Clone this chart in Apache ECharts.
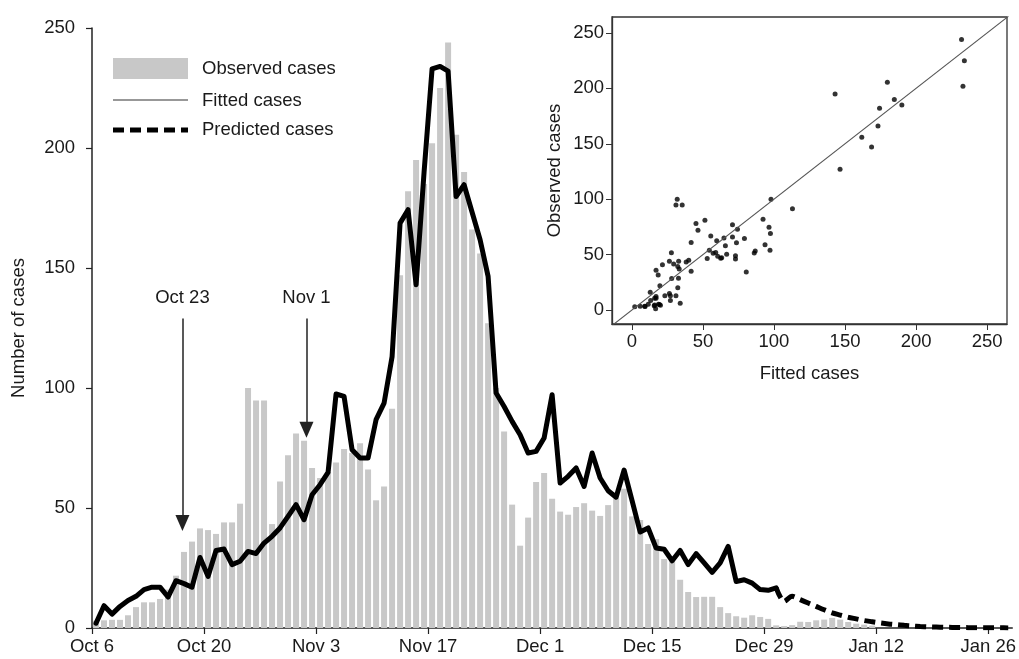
<!DOCTYPE html>
<html>
<head>
<meta charset="utf-8">
<script src="https://cdn.jsdelivr.net/npm/echarts@6/dist/echarts.min.js"></script>
<style>
    html, body { margin: 0; padding: 0; background: #fff; }
    #main { width: 1019px; height: 659px; }
</style>
</head>
<body>
<div id="main"></div>
<script>
    // daily counts, index 0 = Oct 6
    var observed = [3, 3.2, 3.4, 3.4, 5.3, 8.7, 10.7, 10.7, 12.1, 16,
        21.8, 31.7, 36, 41.5, 40.8, 39.2, 44, 44, 51.8, 100,
        94.8, 94.8, 43.3, 61, 72, 81, 78, 66.7, 62.5, 65,
        69, 74.6, 72.9, 77, 66, 53.2, 59, 91.4, 147, 182,
        195, 185, 202, 225, 244, 205.5, 190, 166, 156, 127,
        100, 81.9, 51.4, 34.3, 46, 60.8, 64.6, 53.9, 48.5, 47.2,
        50.4, 52, 48.9, 46.7, 51.2, 54, 58, 46.5, 45, 35,
        37, 28.7, 28.5, 20.1, 15, 12.9, 13, 13, 8.7, 6.2,
        4.9, 4.3, 5.3, 4.6, 3.8, 1.1, 0.8, 1.2, 2.6, 2.5,
        3.2, 3.5, 4.2, 3.5, 2.5, 1.8, 1.4, 1.0];

    var fitted = [2, 9.3, 5.8, 9, 11.5, 13.2, 16, 17, 17, 12.9,
        19.7, 18.5, 17, 29.4, 21.5, 32.3, 32.9, 26.4, 27.8, 31.9,
        31, 35.4, 38.2, 41.7, 46.5, 51.4, 45.1, 55.5, 59.7, 64.8,
        97.5, 96.5, 74.3, 70.8, 70.8, 86.8, 93.7, 113, 168.7, 174.3,
        143, 190, 233, 234, 232, 179.8, 184.7, 173.2, 161.8, 146.5,
        97.9, 92.3, 86.1, 80.5, 72.9, 73.6, 79.2, 97.2, 60.4, 63.2,
        66.7, 59, 72.9, 62.5, 57.2, 54.5, 65.8, 53, 40, 41.7,
        33.3, 32.8, 28, 32.3, 26.4, 31, 27.1, 23.2, 27.1, 34,
        19.4, 20.1, 18.7, 16, 15.7, 16.7];

    // predicted starts on the last fitted day
    var predStart = 85;
    var predicted = [16.7, 11.1, 13.2, 11.8, 10.4, 9, 7.6, 6.3, 5.4, 4.5,
        3.8, 3.1, 2.6, 2.1, 1.7, 1.4, 1.1, 0.85, 0.65, 0.5,
        0.4, 0.3, 0.25, 0.2, 0.15, 0.12, 0.1, 0.08, 0.06, 0.05];

    var xTickDays = [0, 14, 28, 42, 56, 70, 84, 98, 112];
    var xTickLabels = ['Oct 6', 'Oct 20', 'Nov 3', 'Nov 17', 'Dec 1', 'Dec 15', 'Dec 29', 'Jan 12', 'Jan 26'];
    var insetTicks = [0, 50, 100, 150, 200, 250];

    // arrows (day, top value, bottom value)
    var arrowLabels = ['Oct 23', 'Nov 1'];
    var arrowX = [11.3, 26.8];
    var arrowTop = 129;
    var arrowBottom = [43.7, 82.6];

    var diag = [-20, 270];

    var font = '"Liberation Sans", Arial, sans-serif';
    var ink = '#1a1a1a';
    var fs = 18.5;

    function byDay(arr, offset) {
        return arr.map(function (v, i) { return [i + offset + 0.5, v]; });
    }

    var pairs = fitted.map(function (f, i) { return [f, observed[i]]; });

    var chart = echarts.init(document.getElementById('main'));

    var option = {
        animation: false,
        textStyle: { fontFamily: font, color: ink },
        grid: [
            { left: 92, right: 0, top: 28, bottom: 31 },
            { left: 612, top: 17, width: 395, height: 307, show: true,
              backgroundColor: '#fff', borderColor: '#333', borderWidth: 1.3 }
        ],
        xAxis: [{
            type: 'value', gridIndex: 0, min: 0, max: 115,
            axisLine: { lineStyle: { color: '#222', width: 1.5 } },
            axisTick: { length: 6, customValues: xTickDays, lineStyle: { color: '#222', width: 1.2 } },
            axisLabel: { customValues: xTickDays, margin: 9, fontSize: fs, color: ink, fontFamily: font,
                formatter: function (v) { return xTickLabels[xTickDays.indexOf(v)] || ''; } },
            splitLine: { show: false }
        }, {
            type: 'value', gridIndex: 1, min: -14, max: 264,
            name: 'Fitted cases', nameLocation: 'middle', nameGap: 40,
            nameTextStyle: { fontSize: fs, color: ink, fontFamily: font },
            axisLine: { onZero: false, lineStyle: { color: '#333', width: 1.3 } },
            axisTick: { length: 6, customValues: insetTicks, lineStyle: { color: '#333' } },
            axisLabel: { customValues: insetTicks, margin: 8, fontSize: fs, color: ink, fontFamily: font },
            splitLine: { show: false }
        }],
        yAxis: [{
            type: 'value', gridIndex: 0, min: 0, max: 250, interval: 50,
            name: 'Number of cases', nameLocation: 'middle', nameGap: 64,
            nameTextStyle: { fontSize: fs, color: ink, fontFamily: font },
            axisLine: { show: true, lineStyle: { color: '#222', width: 1.5 } },
            axisTick: { show: true, length: 6, lineStyle: { color: '#222', width: 1.2 } },
            axisLabel: { margin: 17, fontSize: fs, color: ink, fontFamily: font },
            splitLine: { show: false }
        }, {
            type: 'value', gridIndex: 1, min: -12.6, max: 264.4,
            name: 'Observed cases', nameLocation: 'middle', nameGap: 48,
            nameTextStyle: { fontSize: fs, color: ink, fontFamily: font },
            axisLine: { show: true, onZero: false, lineStyle: { color: '#333', width: 1.3 } },
            axisTick: { show: true, length: 6, customValues: insetTicks, lineStyle: { color: '#333' } },
            axisLabel: { customValues: insetTicks, margin: 8, fontSize: fs, color: ink, fontFamily: font },
            splitLine: { show: false }
        }],
        series: [{
            name: 'Observed cases', type: 'bar', xAxisIndex: 0, yAxisIndex: 0,
            data: byDay(observed, 0), barWidth: 6,
            itemStyle: { color: '#c8c8c8' },
            markLine: {
                silent: true, symbol: ['none', 'triangle'], symbolSize: [14, 16],
                lineStyle: { color: '#222', width: 1.5, type: 'solid' },
                label: { show: true, position: 'start', distance: 11, formatter: '{b}',
                    fontSize: fs, color: ink, fontFamily: font },
                data: arrowX.map(function (x, k) {
                    return [{ coord: [x, arrowTop], name: arrowLabels[k] }, { coord: [x, arrowBottom[k]] }];
                })
            }
        }, {
            name: 'Fitted cases', type: 'line', xAxisIndex: 0, yAxisIndex: 0,
            data: byDay(fitted, 0), symbol: 'none',
            lineStyle: { color: '#000', width: 5, join: 'round', cap: 'round' }
        }, {
            name: 'Predicted cases', type: 'line', xAxisIndex: 0, yAxisIndex: 0,
            data: byDay(predicted, predStart), symbol: 'none', smooth: 0.3,
            lineStyle: { color: '#000', width: 5, type: [11, 6] }
        }, {
            type: 'line', xAxisIndex: 1, yAxisIndex: 1, data: [[diag[0], diag[0]], [diag[1], diag[1]]],
            symbol: 'none', clip: true, lineStyle: { color: '#555', width: 1.1 }
        }, {
            type: 'scatter', xAxisIndex: 1, yAxisIndex: 1, data: pairs,
            symbolSize: 5, itemStyle: { color: '#000' }
        }],
        graphic: [
            { type: 'rect', shape: { x: 113, y: 58, width: 75, height: 21 }, style: { fill: '#c8c8c8' } },
            { type: 'text', x: 202, y: 69, style: { text: 'Observed cases', font: fs + 'px ' + font, fill: ink, verticalAlign: 'middle' } },
            { type: 'line', shape: { x1: 113, y1: 100, x2: 188, y2: 100 }, style: { stroke: '#333', lineWidth: 1.2 } },
            { type: 'text', x: 202, y: 101, style: { text: 'Fitted cases', font: fs + 'px ' + font, fill: ink, verticalAlign: 'middle' } },
            { type: 'line', shape: { x1: 113, y1: 130, x2: 188, y2: 130 }, style: { stroke: '#000', lineWidth: 5, lineDash: [11, 6] } },
            { type: 'text', x: 202, y: 130, style: { text: 'Predicted cases', font: fs + 'px ' + font, fill: ink, verticalAlign: 'middle' } }
        ]
    };
    chart.setOption(option);
</script>
</body>
</html>
